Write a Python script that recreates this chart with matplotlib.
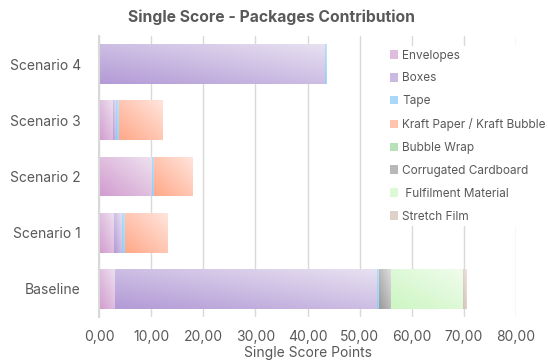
"""Single Score - Packages Contribution, stacked horizontal bars."""
import numpy as np
import matplotlib
matplotlib.use("Agg")
import matplotlib.pyplot as plt
from matplotlib.colors import LinearSegmentedColormap
from matplotlib.patches import Patch
from matplotlib.ticker import FuncFormatter

plt.rcParams["font.family"] = ["Inter", "DejaVu Sans"]
GREY = "#595959"
GRID = "#d9d9d9"

# ============ Data ============
categories = ["Baseline", "Scenario 1", "Scenario 2", "Scenario 3", "Scenario 4"]
series = ["Envelopes", "Boxes", "Tape", "Kraft Paper / Kraft Bubble", "Bubble Wrap",
          "Corrugated Cardboard", " Fulfilment Material", "Stretch Film"]
envelopes  = [3.1, 2.9, 10.1, 2.7, 0.0]
boxes      = [50.2, 1.5, 0.0, 0.5, 43.4]
tape       = [0.5, 0.6, 0.4, 0.6, 0.35]
kraft      = [0.0, 8.2, 7.3, 8.3, 0.0]
bubble     = [0.0, 0.0, 0.0, 0.0, 0.0]
cardboard  = [2.3, 0.0, 0.0, 0.0, 0.0]
fulfilment = [13.7, 0.0, 0.0, 0.0, 0.0]
stretch    = [0.6, 0.0, 0.0, 0.0, 0.0]
values = [envelopes, boxes, tape, kraft, bubble, cardboard, fulfilment, stretch]

# (dark, light) pairs for the gradient fills
shades = [("#d29bcf", "#eee2ef"), ("#b39ad6", "#e7e1f1"), ("#8dcaf5", "#cde8fb"),
          ("#ffa888", "#ffe5dd"), ("#9ed49e", "#d8f1d8"), ("#999999", "#dedede"),
          ("#ccf6c2", "#f0fcec"), ("#d2c0b6", "#ede5e1")]

# ============ Figure ============
fig = plt.figure(figsize=(5.48, 3.6), dpi=100)
ax = fig.add_axes([99/548, 1-317/360, (516-99)/548, (317-36)/360])

y = np.arange(len(categories))
left = np.zeros(len(categories))
n = 64
gi, gj = np.meshgrid(np.arange(n), np.arange(n))
grad = (gi + gj) / (2 * (n - 1))  # bottom-left dark -> top-right light
for vals, (dark, light) in zip(values, shades):
    cmap = LinearSegmentedColormap.from_list("g", [dark, light])
    bars = ax.barh(y, vals, left=left, height=0.71, color=light, linewidth=0, zorder=2)
    for b in bars:
        if b.get_width() <= 0:
            continue
        x0, y0 = b.get_x(), b.get_y()
        im = ax.imshow(grad, cmap=cmap, interpolation="bilinear", origin="lower",
                       extent=[x0, x0 + b.get_width(), y0, y0 + b.get_height()],
                       aspect="auto", zorder=3)
        im.set_clip_path(b)
    left += np.array(vals)

ax.set_xlim(0, 80)
ax.set_ylim(-0.5, len(categories) - 0.5)
ax.set_yticks(y)
ax.set_yticklabels(categories)
ax.set_xticks(np.arange(0, 81, 10))
ax.xaxis.set_major_formatter(FuncFormatter(lambda v, p: f"{v:.2f}".replace(".", ",")))
ax.tick_params(length=0, colors=GREY, labelsize=10)
ax.tick_params(axis="y", pad=13)
ax.tick_params(axis="x", pad=9)
ax.grid(axis="x", color=GRID, linewidth=1, zorder=0)
ax.set_axisbelow(True)
for s in ["top", "right", "bottom"]:
    ax.spines[s].set_visible(False)
ax.spines["left"].set_color(GRID)
ax.spines["left"].set_linewidth(1.5)
ax.spines["left"].set_zorder(4)

ax.set_xlabel("Single Score Points", color=GREY, fontsize=10, labelpad=1.5)
fig.suptitle("Single Score - Packages Contribution", color=GREY, fontsize=11.3,
             fontweight="bold", x=271/548, y=0.973)

handles = [Patch(facecolor=cmap_mid, edgecolor="none") for cmap_mid in
           [LinearSegmentedColormap.from_list("m", s)(0.45) for s in shades]]
leg = fig.legend(handles, series, loc="upper left", bbox_to_anchor=(386/548, 1-46/360),
                 fontsize=8.5, frameon=True, handlelength=0.75, handleheight=0.75,
                 handletextpad=0.3, labelspacing=0.92, borderpad=0.3, borderaxespad=0)
leg.get_frame().set_facecolor("white")
leg.get_frame().set_edgecolor("none")
leg.get_frame().set_alpha(1)
for t in leg.get_texts():
    t.set_color(GREY)

fig.savefig("out.png", dpi=100)
